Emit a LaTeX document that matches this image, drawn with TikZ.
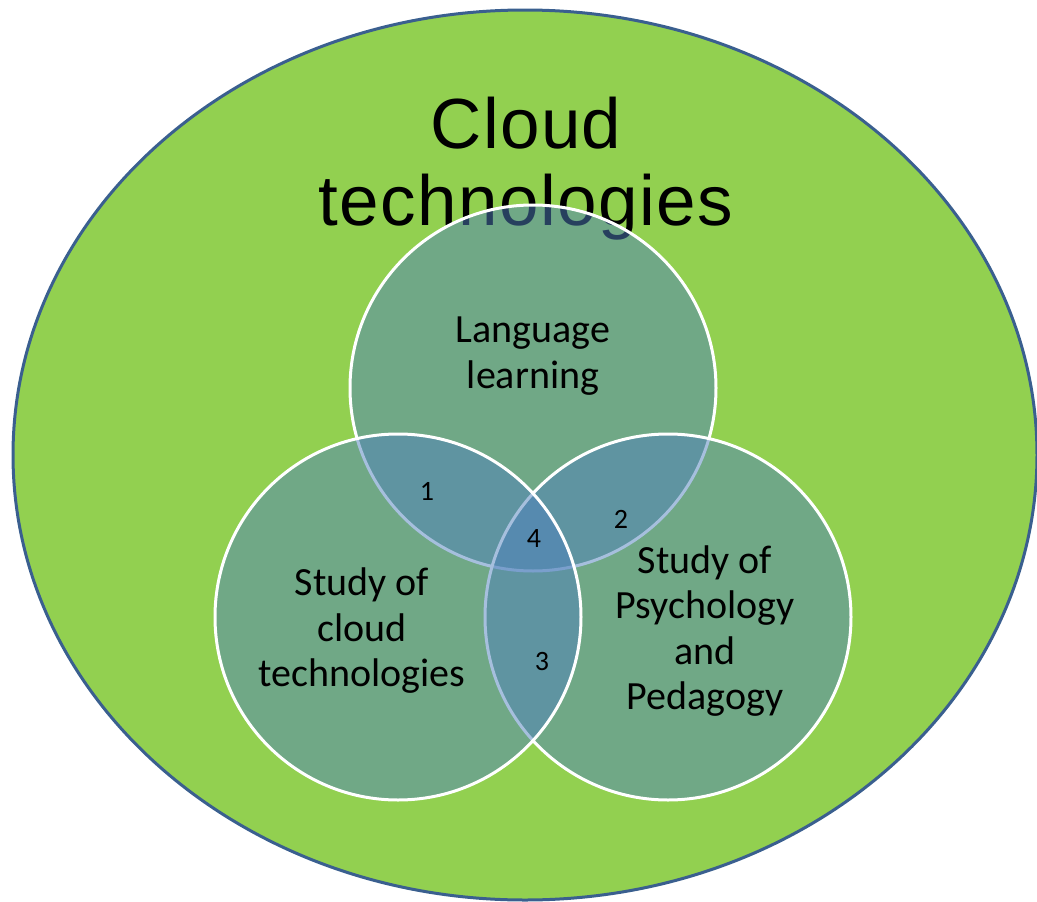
\documentclass[tikz,border=0pt]{standalone}
\usepackage{fontspec}
\usepackage{xcolor}
\setmainfont{Carlito}
\newfontfamily\titlefont[LetterSpace=2]{Liberation Sans}
\definecolor{Grass}{HTML}{92D050}
\definecolor{Rim}{HTML}{3A5F8F}
\definecolor{Sea}{HTML}{4F81BD}
\definecolor{Ink}{HTML}{000000}
\tikzset{
  outer/.style={draw=Rim,fill=Grass,line width=3pt},
  venn/.style={circle,draw=white,fill=Sea,fill opacity=0.5,draw opacity=1,line width=3pt,minimum size=366pt,inner sep=0pt},
  title/.style={font=\titlefont\fontsize{71}{77}\selectfont,text=Ink,inner sep=0pt,anchor=base},
  lbl/.style={font=\fontsize{40}{45.5}\selectfont,text=Ink,align=center,inner sep=0pt},
  num/.style={font=\fontsize{28}{30}\selectfont,text=Ink,inner sep=0pt}
}

\begin{document}
\begin{tikzpicture}[x=1pt,y=-1pt]
  \useasboundingbox (0,0) rectangle (1037,902);
  \draw[outer] (525,455) ellipse [x radius=512, y radius=445];
  \node[title] (title1) at (526,148) {Cloud};
  \node[title] (title2) at (526,225) {technologies};
  % three overlapping fields
  \node[venn] (lang) at (533,388) {};
  \node[venn] (psy) at (668,617) {};
  \node[venn] (cloud) at (398,617) {};
  \node[lbl] (langtxt) at (533,356) {Language\\learning};
  \node[lbl] (cloudtxt) at (362,631) {Study of\\cloud\\technologies};
  \node[lbl] (psytxt) at (705,631) {Study of\\Psychology\\and\\Pedagogy};
  % overlap numbers
  \node[num] (n1) at (427,491) {1};
  \node[num] (n2) at (621,519) {2};
  \node[num] (n3) at (542,662) {3};
  \node[num] (n4) at (534,539) {4};
\end{tikzpicture}
\end{document}
